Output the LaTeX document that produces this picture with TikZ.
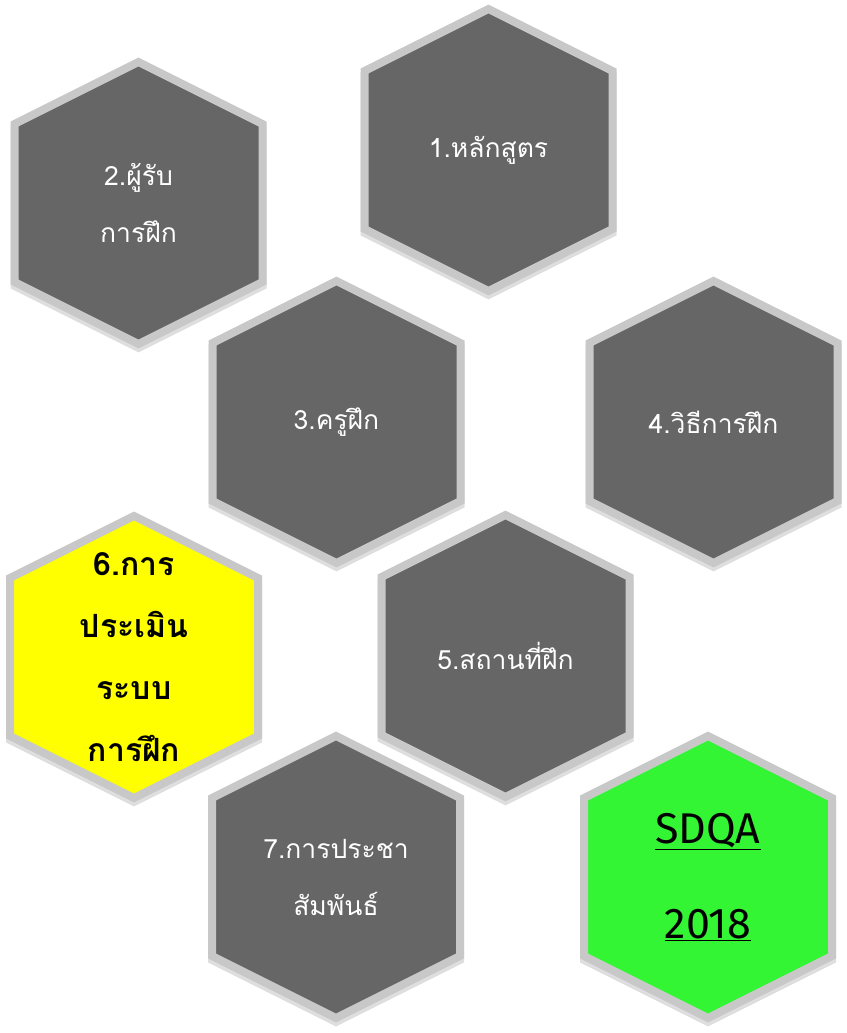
\documentclass[tikz,border=0pt]{standalone}
\usepackage{fontspec}
\newfontfamily\thaifont[Script=Thai]{Loma}
\newfontfamily\latinfont{Fira Sans}
\definecolor{hexgray}{HTML}{666666}
\definecolor{hexborder}{HTML}{C8C8C8}
\definecolor{hexyellow}{HTML}{FFFF00}
\definecolor{hexgreen}{HTML}{33F533}
\tikzset{
  hexshape/.style={draw=hexborder, line width=8pt, line join=miter},
  hexshadow/.style={draw=black, line width=8pt, draw opacity=0.13, line join=miter},
  hextext/.style={text=white, align=center, font=\thaifont\fontsize{26.5}{57}\selectfont},
  yellowtext/.style={text=black, align=center, font=\thaifont\bfseries\fontsize{32}{62}\selectfont},
  greentext/.style={text=black, align=center, font=\latinfont\fontsize{43}{95}\selectfont},
}
\newcommand\hexcell[3]{%
  \begin{scope}[shift={(#1,#2)}]
    \path[hexshadow] (-124,-75) -- (0,-137) -- (124,-75) -- (124,83) -- (0,145) -- (-124,83) -- cycle;
    \path[hexshape, fill=#3] (-124,-79) -- (0,-141) -- (124,-79) -- (124,79) -- (0,141) -- (-124,79) -- cycle;
  \end{scope}}
\begin{document}
\begin{tikzpicture}[x=1pt,y=-1pt]
  \useasboundingbox (0,0) rectangle (846,1033);
  \hexcell{488.5}{150}{hexgray}
  \hexcell{138.5}{203}{hexgray}
  \hexcell{336.5}{422}{hexgray}
  \hexcell{713.5}{422}{hexgray}
  \hexcell{134}{657}{hexyellow}
  \hexcell{505.5}{656}{hexgray}
  \hexcell{336}{877}{hexgray}
  \hexcell{708}{877}{hexgreen}
  \node[hextext] (n1) at (488.5,150) {1.หลักสูตร};
  \node[hextext] (n2) at (138.5,203) {2.ผู้รับ\\การฝึก};
  \node[hextext] (n3) at (336.5,422) {3.ครูฝึก};
  \node[hextext] (n4) at (713.5,422) {4.วิธีการฝึก};
  \node[yellowtext] (n6) at (134,657) {6.การ\\ประเมิน\\ระบบ\\การฝึก};
  \node[hextext] (n5) at (505.5,656) {5.สถานที่ฝึก};
  \node[hextext] (n7) at (336,877) {7.การประชา\\สัมพันธ์};
  \node[greentext] (n8) at (708,877) {\underline{SDQA}\\\underline{2018}};
\end{tikzpicture}
\end{document}
